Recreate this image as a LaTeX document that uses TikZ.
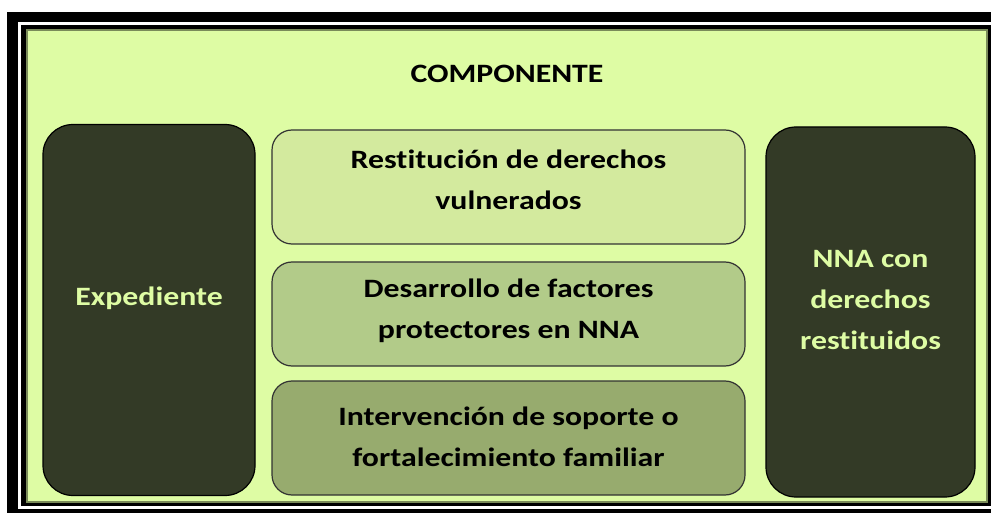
\documentclass[tikz,border=0pt]{standalone}
\usepackage{fontspec}
\setmainfont[Ligatures=NoCommon, FakeStretch=1.2]{Carlito}
\usetikzlibrary{positioning}

\begin{document}
\begin{tikzpicture}[x=1pt, y=-1pt,
        darkbox/.style={draw=black, line width=1.2pt, rounded corners=30pt, fill=compdark, minimum width=#1, minimum height=371pt},
        compbox/.style={draw=black!80, line width=1.2pt, rounded corners=20pt, fill=#1, minimum width=473pt, minimum height=114pt},
        boxtext/.style={text=#1, font=\fontsize{26.5}{41}\selectfont\bfseries, align=center}]
        \definecolor{compbg}{RGB}{222,252,164}
        \definecolor{compdark}{RGB}{51,58,38}
        \definecolor{complight}{RGB}{211,234,158}
        \definecolor{compmid}{RGB}{178,203,137}
        \definecolor{compolive}{RGB}{151,171,110}

        % Fix the page size to the reference
        \useasboundingbox (0,0) rectangle (991,513);

        % Double black frame round the green panel
        \fill[black] (7,12) rectangle (995,517);
        \fill[white] (18,22) rectangle (991,509);
        \fill[black] (21,25) rectangle (991,506);
        \fill[compbg] (26,29) rectangle (988,503);
        \draw[compbg!55!black, line width=1.5pt] (27,30) rectangle (987,502);

        % Title
        \node[boxtext=black] (comp) at (507,74) {COMPONENTE};

        % Input and output blocks on the sides
        \node[darkbox=212pt] (exped) at (149,310) {};
        \node[darkbox=209pt, minimum height=370pt] (nnarest) at (870.5,312) {};
        \node[boxtext=compbg] (exped-txt) at ([yshift=12pt]exped.center) {Expediente};
        \node[boxtext=compbg] (nnarest-txt) at ([yshift=12pt]nnarest.center) {NNA con\\derechos\\restituidos};

        % Three components in the middle
        \node[compbox=complight] (restit) at (508.5,187) {};
        \node[compbox=compmid, minimum height=104pt] (desarr) at (508.5,314) {};
        \node[compbox=compolive, minimum height=114pt] (interv) at (508.5,438) {};
        \node[boxtext=black] (restit-txt) at ([yshift=7pt]restit.center) {Restitución de derechos\\vulnerados};
        \node[boxtext=black] (desarr-txt) at ([yshift=3pt]desarr.center) {Desarrollo de factores\\protectores en NNA};
        \node[boxtext=black] (interv-txt) at ([yshift=1pt]interv.center) {Intervención de soporte o\\fortalecimiento familiar};
\end{tikzpicture}
\end{document}
